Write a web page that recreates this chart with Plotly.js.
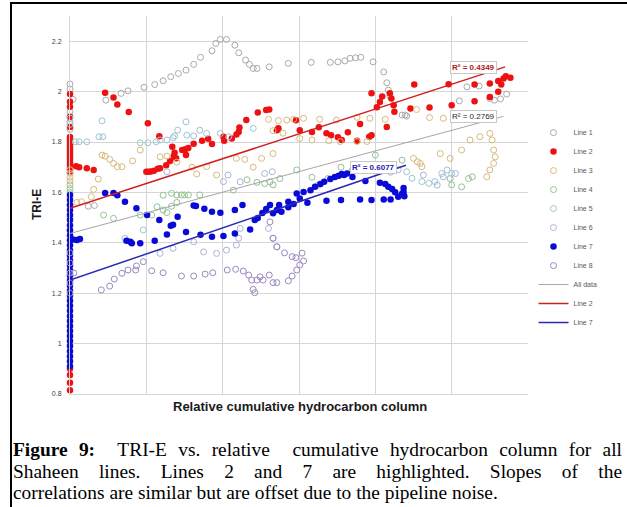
<!DOCTYPE html>
<html>
<head>
<meta charset="utf-8">
<script src="https://cdn.plot.ly/plotly-3.0.1.min.js"></script>
<style>
  body { margin: 0; background: #fff; }
  #wrap { position: relative; width: 627px; height: 507px; overflow: hidden; background: #fff; }
  #chart { position: absolute; left: 0; top: 0; width: 627px; height: 507px; }
  #frame { position: absolute; left: 10px; top: 2px; width: 640px; height: 530px; border-left: 2px solid #000; border-top: 2px solid #000; pointer-events: none; z-index: 5; }
  #cap { position: absolute; left: 13px; top: 439px; width: 609px; font-family: 'Liberation Serif', 'Times New Roman', serif; font-size: 19.4px; line-height: 21.5px; color: #000; z-index: 6; }
  .j { text-align: justify; text-align-last: justify; }
</style>
</head>
<body>
<div id="wrap">
  <div id="chart"></div>
  <div id="frame"></div>
  <div id="cap">
    <div class="j"><b>Figure 9:</b>&nbsp; TRI-E vs. relative&nbsp; cumulative hydrocarbon column for all</div>
    <div class="j">Shaheen lines. Lines 2 and 7 are highlighted. Slopes of the</div>
    <div>correlations are similar but are offset due to the pipeline noise.</div>
  </div>
</div>
<script>
// ---------------- data ----------------
const line1X = [0,0,0,0,0, 0.04,0.47,0.67,0.76,0.97,1.11,1.22,1.32,1.42,1.52,1.62,1.71,1.86,1.91,1.97,2.05,2.16,2.21,2.30,2.35,2.40,2.45,2.61,2.86,3.16,3.41,3.51,3.60,3.67,3.74,3.81,3.97,4.11,4.15,4.17,4.19,4.35,4.39,4.41,5.10,5.20,5.36,5.50,5.56,5.64,5.72,0.24,0.32];
const line1Y = [2.03,2.01,1.92,1.88,1.85, 1.969,1.966,1.993,2.003,2.017,2.028,2.043,2.059,2.072,2.085,2.108,2.136,2.162,2.191,2.207,2.207,2.184,2.154,2.125,2.108,2.092,2.092,2.098,2.112,2.116,2.116,2.118,2.122,2.132,2.134,2.136,2.118,2.078,2.035,2.006,1.982,1.907,1.907,1.903,1.963,2.019,2.022,1.973,1.966,1.971,1.99,1.545,1.548];

const line2X = [0,0,0,0,0,0,0,0,0,0,0,0,0,0,0,0,0,0,0,0,0,0,0,0,
  0.08,0.12,0.22,0.31,0.46,0.57,0.62,0.77,1.02,1.00,1.03,1.06,1.10,1.15,1.18,1.26,1.31,1.36,1.37,1.39,1.17,1.34,1.47,1.51,1.55,1.52,1.62,1.73,1.81,1.86,2.01,2.02,2.12,2.18,2.21,2.22,2.31,2.46,2.57,2.61,2.71,2.73,2.96,3.01,3.17,3.26,3.36,3.42,3.51,3.56,3.64,3.76,3.80,3.92,3.95,3.95,4.02,4.06,4.09,4.15,4.19,4.21,4.24,4.25,4.46,4.51,4.71,4.96,5.00,5.30,5.30,5.50,5.50,5.61,5.61,5.65,5.68,5.71,5.77];
const line2Y = [1.99,1.96,1.94,1.90,1.86,1.82,1.81,1.80,1.79,1.78,1.77,1.76,1.75,1.74,1.73,1.72,1.71,1.70,1.69,1.68,0.90,0.875,0.845,0.815,
  1.704,1.700,1.696,1.689,1.995,1.977,1.949,1.919,1.874,1.682,1.682,1.683,1.686,1.694,1.696,1.708,1.725,1.744,1.757,1.736,1.823,1.781,1.768,1.771,1.776,1.748,1.793,1.805,1.813,1.792,1.821,1.805,1.814,1.830,1.840,1.858,1.887,1.917,1.927,1.929,1.847,1.855,1.886,1.847,1.840,1.859,1.835,1.827,1.819,1.808,1.839,1.805,1.871,1.821,1.827,1.993,1.938,1.959,1.981,1.860,1.993,1.973,1.946,1.920,1.933,2.028,1.937,2.029,1.946,2.028,1.962,2.032,1.979,1.999,2.042,2.028,2.052,2.061,2.055];

const line3X = [0,0,0,0, 0.09,0.15,0.28,0.31,0.37,0.42,0.46,0.52,0.57,0.62,0.68,0.82,0.92,1.18,1.27,1.66,1.79,1.92,2.18,2.29,2.51,2.66,2.60,2.73,2.84,2.93,3.06,3.27,3.49,3.76,3.93,4.13,4.54,4.71,4.89,5.05,2.66,2.79,3.01,3.17,3.39,3.54,3.76,3.89,4.50,4.55,4.59,4.61,4.85,4.98,5.13,5.24,5.37,5.50,5.53,5.55,5.57,5.55,5.50,5.46,1.40,1.60,2.40];
const line3Y = [1.69,1.675,1.66,1.645, 1.56,1.563,1.583,1.612,1.653,1.748,1.744,1.731,1.715,1.702,1.702,1.725,1.768,1.741,1.744,1.673,1.702,1.669,1.735,1.731,1.735,1.754,1.89,1.885,1.887,1.890,1.894,1.890,1.887,1.898,1.894,1.890,1.929,1.897,1.894,1.897,1.845,1.835,1.814,1.808,1.805,1.802,1.802,1.802,1.735,1.722,1.715,1.702,1.754,1.735,1.768,1.808,1.821,1.834,1.808,1.768,1.741,1.715,1.689,1.662,1.72,1.70,1.70];

const line4X = [0,0,0, 0.44,0.57,0.92,1.07,1.14,1.22,1.27,1.33,1.40,1.22,1.33,1.40,1.46,1.50,1.55,1.70,2.14,2.32,2.45,2.55,2.66,2.62,2.75,2.97,3.17,3.25,3.38,4.00,4.35,4.98,5.00,5.13,5.22,5.27,3.55,3.70];
const line4Y = [1.63,1.615,1.60, 1.510,1.497,1.510,1.510,1.543,1.530,1.520,1.545,1.560,1.589,1.596,1.590,1.590,1.590,1.590,1.590,1.609,1.650,1.640,1.635,1.630,1.642,1.655,1.689,1.660,1.629,1.655,1.748,1.728,1.655,1.630,1.622,1.655,1.662,1.700,1.690];

const line5X = [0,0,0,0, 0.07,0.12,0.22,0.38,0.43,0.42,0.92,1.02,1.13,1.18,1.27,1.35,1.41,1.37,1.53,1.52,1.62,1.70,1.79,1.97,2.08,2.40,0.72,0.96,4.41,4.48,4.61,4.70,4.78,4.87,4.94,5.00];
const line5Y = [1.895,1.87,1.58,1.55, 1.801,1.801,1.801,1.821,1.821,1.884,1.797,1.797,1.801,1.808,1.808,1.817,1.847,1.824,1.827,1.880,1.824,1.847,1.834,1.834,1.821,1.854,1.418,1.451,1.682,1.656,1.643,1.636,1.643,1.675,1.689,1.675];

const line6X = [0,0, 1.18,1.35,1.62,1.75,1.92,2.05,2.18,2.21,2.23,2.60,2.66,2.71,1.27,2.07,2.01,2.23,2.55,2.65,4.63,4.81,4.89,5.05,4.20,4.30];
const line6Y = [1.50,1.45, 1.358,1.378,1.404,1.364,1.358,1.371,1.391,1.418,1.457,1.457,1.418,1.384,1.682,1.669,1.643,1.642,1.675,1.682,1.669,1.629,1.662,1.675,1.680,1.690];

const line7X = [0,0,0,0,0,0,0,0,0,0,0,0,0,0,0,0,0,0,0,0,0,0,0,0,0,0,0,0,0,0,0,0,0,0,0,
  0.04,0.09,0.13,0.46,0.57,0.62,0.72,0.74,0.79,0.81,0.87,0.92,1.01,1.11,1.17,1.27,1.32,1.35,1.41,1.52,1.62,1.65,1.71,1.76,1.86,1.86,1.97,2.01,2.16,2.16,2.26,2.36,2.42,2.46,2.52,2.57,2.62,2.66,2.71,2.74,2.77,2.86,2.86,2.93,2.97,3.01,3.06,3.11,3.15,3.21,3.28,3.33,3.36,3.41,3.47,3.52,3.56,3.55,3.59,3.63,3.70,3.80,3.87,3.95,4.06,4.11,4.13,4.17,4.20,4.22,4.26,4.30,4.35,4.37,4.38,4.37];
const line7Y = [1.59,1.57,1.55,1.53,1.51,1.49,1.47,1.45,1.43,1.41,1.39,1.37,1.35,1.33,1.31,1.29,1.27,1.25,1.23,1.21,1.19,1.17,1.15,1.13,1.11,1.09,1.07,1.05,1.03,1.01,0.99,0.97,0.95,0.93,0.91,
  1.413,1.411,1.415,1.598,1.598,1.589,1.563,1.408,1.404,1.398,1.537,1.398,1.510,1.408,1.490,1.433,1.468,1.472,1.503,1.443,1.548,1.546,1.432,1.535,1.523,1.424,1.519,1.427,1.530,1.437,1.550,1.453,1.490,1.498,1.518,1.534,1.550,1.517,1.530,1.550,1.523,1.541,1.563,1.554,1.596,1.576,1.602,1.559,1.609,1.622,1.633,1.642,1.567,1.653,1.661,1.666,1.673,1.570,1.669,1.675,1.661,1.572,1.645,1.570,1.638,1.572,1.633,1.622,1.572,1.613,1.601,1.583,1.595,1.602,1.585,1.617];

const line8X = [0,0,0,0,0, 0.05,0.41,0.52,0.58,0.68,0.76,0.86,0.87,0.96,1.07,1.22,1.46,1.62,1.77,1.87,2.06,2.17,2.27,2.34,2.38,2.40,2.42,2.45,2.49,2.53,2.61,2.66,2.71,2.62,2.66,2.71,2.81,2.91,2.96,3.04,3.06,3.01,2.97,2.91,2.86];
const line8Y = [1.36,1.32,1.28,1.24,1.20, 1.28,1.213,1.228,1.256,1.279,1.292,1.292,1.308,1.325,1.289,1.281,1.268,1.268,1.276,1.281,1.292,1.295,1.288,1.272,1.252,1.215,1.202,1.252,1.265,1.252,1.272,1.242,1.242,1.483,1.418,1.384,1.360,1.345,1.341,1.359,1.328,1.312,1.292,1.268,1.249];

// linear fits (endpoints)
const fitAllX = [0, 5.68];
const fitAllY = [1.437, 1.902];
const fit2X = [0, 5.70];
const fit2Y = [1.537, 2.098];
const fit7X = [0, 4.40];
const fit7Y = [1.252, 1.708];

const r2Labels = ['R² = 0.4349', 'R² = 0.2769', 'R² = 0.6077'];
const r2X = [5.29, 5.29, 3.98];
const r2Y = [2.095, 1.903, 1.698];

const yTicks = [0.8, 1, 1.2, 1.4, 1.6, 1.8, 2, 2.2];
const yTickText = ['0.8', '1', '1.2', '1.4', '1.6', '1.8', '2', '2.2'];

// ---------------- traces ----------------
function pts(name, x, y, color, open) {
  return {
    type: 'scatter', mode: 'markers', name: name, x: x, y: y, cliponaxis: false,
    hoverinfo: 'skip',
    marker: open
      ? { symbol: 'circle-open', size: 6, color: color, line: { width: 1, color: color } }
      : { symbol: 'circle', size: 6.5, color: color, line: { width: 0 } }
  };
}
function fit(name, x, y, color, w) {
  return { type: 'scatter', mode: 'lines', name: name, x: x, y: y, hoverinfo: 'skip',
           line: { color: color, width: w } };
}

const traces = [
  pts('Line 1', line1X, line1Y, '#a9a9a9', true),
  pts('Line 2', line2X, line2Y, '#ee1111', false),
  pts('Line 3', line3X, line3Y, '#d9b97c', true),
  pts('Line 4', line4X, line4Y, '#92c292', true),
  pts('Line 5', line5X, line5Y, '#9fc4cf', true),
  pts('Line 6', line6X, line6Y, '#a9b3d6', true),
  pts('Line 7', line7X, line7Y, '#0a0ad8', false),
  pts('Line 8', line8X, line8Y, '#9c88bf', true),
  fit('All data', fitAllX, fitAllY, '#a6a6a6', 1),
  fit('Line 2', fit2X, fit2Y, '#d02020', 1.5),
  fit('Line 7', fit7X, fit7Y, '#2a2ab4', 1.5)
];

const r2Colors = ['#b01818', '#262626', '#1c1cb0'];
const annotations = r2Labels.map((t, i) => ({
  x: r2X[i], y: r2Y[i], xref: 'x', yref: 'y', text: t, showarrow: false,
  font: { family: 'Liberation Sans, Arial, sans-serif', size: 8, color: r2Colors[i], weight: i === 1 ? 'normal' : 'bold' },
  bgcolor: '#ffffff', bordercolor: '#c8c8c8', borderwidth: 1, borderpad: 1
}));
annotations.push({
  xref: 'paper', yref: 'paper', x: -0.072, xanchor: 'center', y: 0.5, yanchor: 'middle', textangle: -90, showarrow: false,
  text: '<b>TRI-E</b>', font: { family: 'Liberation Sans, Arial, sans-serif', size: 12, color: '#1a1a1a' }
});
annotations.push({
  xref: 'paper', yref: 'paper', x: 0.502, xanchor: 'center', y: -0.034, yanchor: 'middle', showarrow: false,
  text: '<b>Relative cumulative hydrocarbon column</b>', font: { family: 'Liberation Sans, Arial, sans-serif', size: 13, color: '#1a1a1a' }
});

const layout = {
  width: 627, height: 507,
  margin: { l: 70, r: 99, t: 16, b: 113, pad: 0 },
  paper_bgcolor: '#ffffff', plot_bgcolor: '#ffffff',
  showlegend: true,
  legend: {
    x: 1.012, xanchor: 'left', y: 0.73, yanchor: 'top',
    font: { family: 'Liberation Sans, Arial, sans-serif', size: 7, color: '#595959' },
    bgcolor: 'rgba(0,0,0,0)', borderwidth: 0, itemwidth: 30, tracegroupgap: 0
  },
  xaxis: {
    range: [0, 6], tick0: 0, dtick: 1, showticklabels: false, ticks: '',
    showgrid: true, gridcolor: '#d6d6d6', gridwidth: 1, zeroline: false,
    showline: true, linecolor: '#d6d6d6', linewidth: 1, fixedrange: true
  },
  yaxis: {
    range: [0.8, 2.3], tickvals: yTicks, ticktext: yTickText, ticks: '',
    tickfont: { family: 'Liberation Sans, Arial, sans-serif', size: 7, color: '#404040' },
    ticklabelstandoff: 6,
    showgrid: true, gridcolor: '#d6d6d6', gridwidth: 1, zeroline: false,
    showline: true, linecolor: '#d6d6d6', linewidth: 1, fixedrange: true
  },
  annotations: annotations
};

Plotly.newPlot('chart', traces, layout, { staticPlot: true, displayModeBar: false });
</script>
</body>
</html>
